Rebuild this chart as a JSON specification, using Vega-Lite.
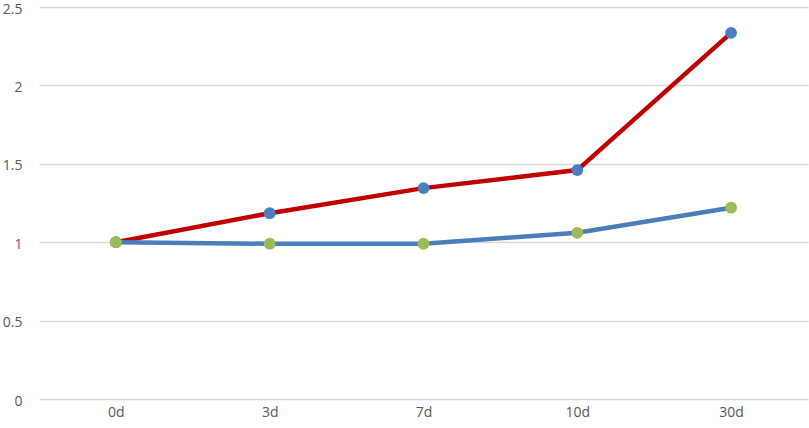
{
  "$schema": "https://vega.github.io/schema/vega-lite/v6.json",
  "autosize": "none",
  "padding": {"left": 39, "top": 7, "right": 1, "bottom": 29},
  "width": 769,
  "height": 392,
  "background": "white",
  "config": {"view": {"stroke": null}, "font": "Open Sans"},
  "data": {"values": [
    {"day": "0d", "series": "s1", "value": 1.0},
    {"day": "3d", "series": "s1", "value": 1.185},
    {"day": "7d", "series": "s1", "value": 1.345},
    {"day": "10d", "series": "s1", "value": 1.46},
    {"day": "30d", "series": "s1", "value": 2.335},
    {"day": "0d", "series": "s2", "value": 1.0},
    {"day": "3d", "series": "s2", "value": 0.99},
    {"day": "7d", "series": "s2", "value": 0.99},
    {"day": "10d", "series": "s2", "value": 1.06},
    {"day": "30d", "series": "s2", "value": 1.22}
  ]},
  "encoding": {
    "x": {"field": "day", "type": "nominal", "sort": ["0d", "3d", "7d", "10d", "30d"],
      "scale": {"type": "point", "padding": 0.5},
      "axis": {"title": null, "domain": false, "ticks": false, "labelAngle": 0, "labelPadding": 6, "labelFontSize": 14, "labelColor": "#595959", "labelFont": "Open Sans"}},
    "y": {"field": "value", "type": "quantitative",
      "scale": {"domain": [0, 2.5], "nice": false},
      "axis": {"title": null, "domain": false, "ticks": false, "values": [0, 0.5, 1, 1.5, 2, 2.5], "format": "~g", "gridColor": "#D9D9D9", "gridWidth": 1.5, "labelPadding": 17, "labelFontSize": 14, "labelColor": "#595959", "labelFont": "Open Sans",
        "labelBaseline": "alphabetic", "labelOffset": 6}}
  },
  "layer": [
    {"mark": {"type": "line", "strokeWidth": 4.5},
     "encoding": {"color": {"field": "series", "type": "nominal", "scale": {"domain": ["s1", "s2"], "range": ["#C00000", "#4A7EBB"]}, "legend": null}}},
    {"mark": {"type": "point", "filled": true, "opacity": 1, "size": 140},
     "encoding": {"color": {"field": "series", "type": "nominal", "scale": {"domain": ["s1", "s2"], "range": ["#4A7EC1", "#9BBB59"]}, "legend": null}}}
  ],
  "resolve": {"scale": {"color": "independent"}}
}
